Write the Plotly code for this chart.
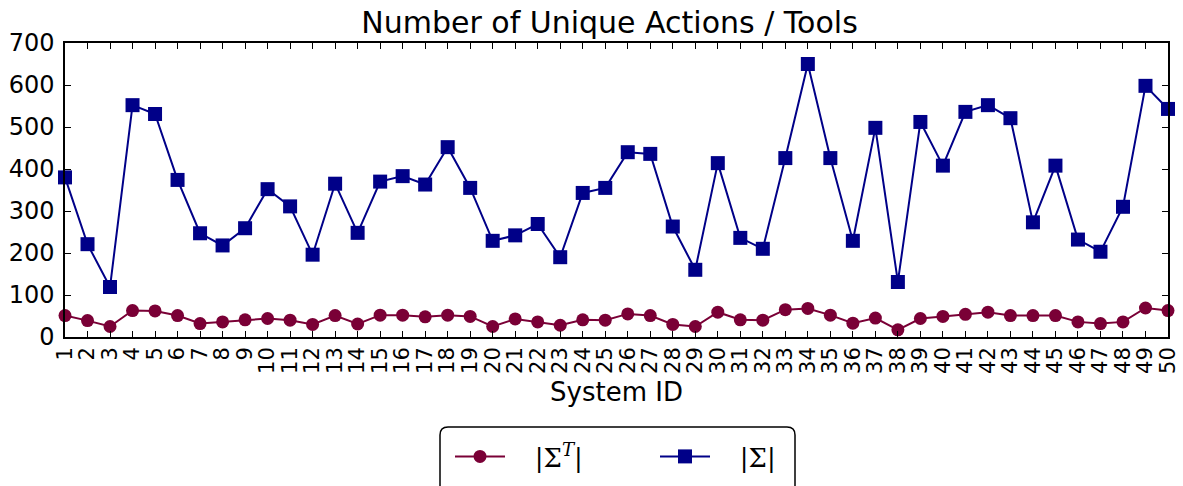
import plotly.graph_objects as go

system_ids = list(range(1, 51))
tick_labels = [str(i) for i in system_ids]

sigma_values = [380, 221, 119, 552, 531, 374, 247, 218, 259, 352,
                311, 196, 365, 248, 370, 383, 363, 452, 355, 229,
                242, 269, 190, 343, 355, 440, 436, 263, 160, 414,
                236, 210, 426, 650, 426, 229, 498, 131, 512, 408,
                536, 552, 521, 273, 408, 232, 203, 310, 598, 543]

sigma_t_values = [51, 39, 25, 63, 62, 51, 32, 36, 41, 44,
                  40, 30, 51, 31, 52, 52, 48, 52, 49, 25,
                  43, 36, 28, 41, 40, 55, 51, 30, 25, 59,
                  41, 40, 65, 68, 52, 33, 45, 17, 44, 49,
                  54, 59, 51, 51, 51, 36, 32, 36, 69, 63]

red = "#7a0036"
blue = "#000088"
font_family = "DejaVu Sans"

W, H = 1183, 486
# plot area in window pixels: x 65..1168, y 43..337
L, T = 65, 43
pw, ph = 1168 - 65, 337 - 43
R = W - L - pw
B = H - T - ph


def px_to_paper_x(px):
    return (px - L) / pw


def px_to_paper_y(py):
    return (T + ph - py) / ph


fig = go.Figure()
fig.add_trace(go.Scatter(
    x=system_ids, y=sigma_t_values, mode="lines+markers",
    name="\u00a0\u00a0\u00a0|Σ<sup><i>T</i></sup>|",
    line=dict(color=red, width=2),
    marker=dict(symbol="circle", size=13, color=red),
    cliponaxis=False,
))
fig.add_trace(go.Scatter(
    x=system_ids, y=sigma_values, mode="lines+markers",
    name="\u00a0\u00a0\u00a0|Σ|",
    line=dict(color=blue, width=2),
    marker=dict(symbol="square", size=14, color=blue),
    cliponaxis=False,
))

# rounded legend frame (extends past bottom edge like the reference)
x0, x1 = px_to_paper_x(440), px_to_paper_x(795)
y0, y1 = px_to_paper_y(427), px_to_paper_y(500)
rx, ry = 8 / pw, 8 / ph
path = (f"M {x0+rx},{y0} L {x1-rx},{y0} Q {x1},{y0} {x1},{y0-ry} "
        f"L {x1},{y1} L {x0},{y1} L {x0},{y0-ry} Q {x0},{y0} {x0+rx},{y0} Z")
fig.add_shape(type="path", path=path, xref="paper", yref="paper",
              line=dict(color="black", width=1.5), fillcolor="rgba(0,0,0,0)", layer="above")

fig.update_layout(
    width=W, height=H,
    margin=dict(l=L, r=R, t=T, b=B, autoexpand=False),
    paper_bgcolor="white", plot_bgcolor="white",
    font=dict(family=font_family, size=20, color="black"),
    title=dict(text="Number of Unique Actions / Tools", xref="paper", x=px_to_paper_x(609.5),
               xanchor="center", yref="container", y=1 - 22 / H, yanchor="middle",
               automargin=False, font=dict(size=30, family=font_family)),
    showlegend=True,
    legend=dict(orientation="h", x=px_to_paper_x(450), xanchor="left",
                y=px_to_paper_y(433), yanchor="top",
                borderwidth=0, bgcolor="rgba(0,0,0,0)",
                font=dict(size=26, family="DejaVu Serif"),
                itemwidth=50, entrywidthmode="pixels", entrywidth=140),
)
fig.update_xaxes(
    range=[1, 50], tickmode="array", tickvals=system_ids, ticktext=tick_labels,
    tickangle=-90, ticks="inside", ticklen=6, tickwidth=1, tickcolor="black",
    mirror="allticks", showline=True, linecolor="black", linewidth=1.5,
    showgrid=False, zeroline=False, tickfont=dict(size=21), automargin=False,
    title=dict(text="System ID", font=dict(size=26), standoff=10),
)
fig.update_yaxes(
    range=[0, 700], dtick=100, ticks="inside", ticklen=6, tickwidth=1, tickcolor="black",
    mirror="allticks", showline=True, linecolor="black", linewidth=1.5,
    showgrid=False, zeroline=False, tickfont=dict(size=24), automargin=False,
    ticklabelstandoff=4,
)

fig.write_html("out.html", config={"displayModeBar": False},
               post_script="document.body.style.margin='0';document.body.style.overflow='hidden';")
